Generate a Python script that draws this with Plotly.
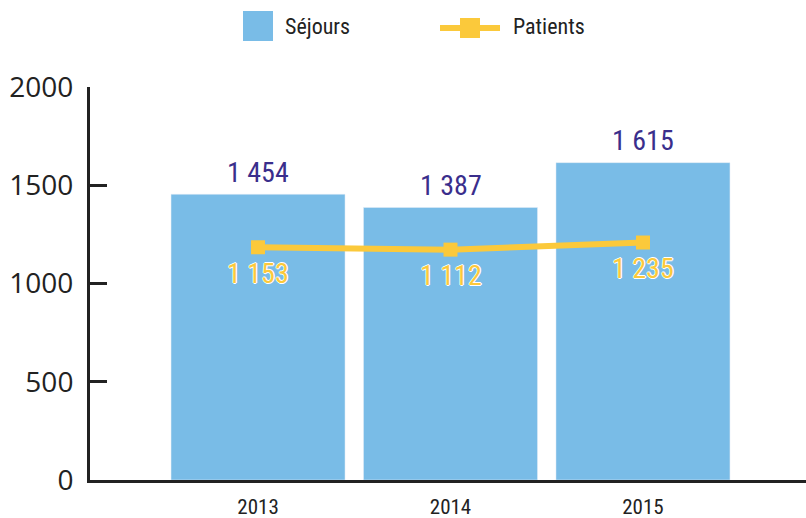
import plotly.graph_objects as go

years = ["2013", "2014", "2015"]
sejours = [1454, 1387, 1615]
patients = [1153, 1112, 1235]
sejours_labels = ["1 454", "1 387", "1 615"]
patients_labels = ["1 153", "1 112", "1 235"]
y_ticks = [0, 500, 1000, 1500, 2000]

BAR = "#79BCE7"
YEL = "#FBC93B"
PURP = "#3A2E8C"
DARK = "#222222"
COND = "Roboto Condensed, DejaVu Sans Condensed, sans-serif"

W, H = 806, 518
ML, MR, MT, MB = 90, 0, 87, 38
PW, PH = W - ML - MR, H - MT - MB


def px(x):
    return (x - ML) / PW


def py(y):
    return (H - MB - y) / PH


fig = go.Figure()
fig.add_trace(go.Bar(x=years, y=sejours, marker_color=BAR, name="Séjours",
                     showlegend=False, hoverinfo="skip"))
fig.add_trace(go.Scatter(x=years, y=patients, yaxis="y2", mode="lines+markers",
                         line=dict(color=YEL, width=6),
                         marker=dict(symbol="square", size=14, color=YEL),
                         name="Patients", showlegend=False))

annotations = []
for i, (v, t) in enumerate(zip(sejours, sejours_labels)):
    annotations.append(dict(x=i, y=v, xref="x", yref="y", text=t, showarrow=False,
                            yshift=22, font=dict(family=COND, size=28, color=PURP)))
outline = "1px 0 0 #fff, -1px 0 0 #fff, 0 1px 0 #fff, 0 -1px 0 #fff"
for i, (v, t) in enumerate(zip(patients, patients_labels)):
    annotations.append(dict(x=i, y=v, xref="x", yref="y2", text=t, showarrow=False,
                            yshift=-26,
                            font=dict(family=COND, size=28, color=YEL, shadow=outline)))

# custom legend
annotations.append(dict(x=px(283), y=py(27), xref="paper", yref="paper", text="Séjours",
                        showarrow=False, xanchor="left", yanchor="middle",
                        font=dict(family=COND, size=22, color=DARK)))
annotations.append(dict(x=px(511), y=py(27), xref="paper", yref="paper", text="Patients",
                        showarrow=False, xanchor="left", yanchor="middle",
                        font=dict(family=COND, size=22, color=DARK)))
shapes = [
    dict(type="rect", xref="paper", yref="paper", x0=px(243), x1=px(273), y0=py(41), y1=py(11),
         fillcolor=BAR, line_width=0),
    dict(type="line", xref="paper", yref="paper", x0=px(440), x1=px(500), y0=py(28), y1=py(28),
         line=dict(color=YEL, width=6)),
    dict(type="rect", xref="paper", yref="paper", x0=px(460), x1=px(480), y0=py(38), y1=py(18),
         fillcolor=YEL, line_width=0),
]

fig.update_layout(
    width=W, height=H,
    margin=dict(l=ML, r=MR, t=MT, b=MB, autoexpand=False),
    paper_bgcolor="white", plot_bgcolor="white",
    showlegend=False,
    bargap=0.096,
    annotations=annotations,
    shapes=shapes,
    xaxis=dict(type="category", range=[-0.873, 2.847], showline=True, linecolor=DARK,
               linewidth=3, ticks="", showgrid=False, zeroline=False, automargin=False,
               tickfont=dict(family=COND, size=21, color=DARK), ticklabelstandoff=6),
    yaxis=dict(range=[0, 2000], tickvals=y_ticks, showline=True, linecolor=DARK, linewidth=3,
               ticks="inside", ticklen=17, tickwidth=3, tickcolor=DARK, showgrid=False,
               zeroline=False, automargin=False,
               tickfont=dict(family="Open Sans", size=28, color=DARK),
               ticklabelstandoff=8),
    yaxis2=dict(range=[-2874, 3926], overlaying="y", visible=False),
)

fig.write_html("out.html", config={"displayModeBar": False},
               post_script="document.body.style.margin='0';document.body.style.overflow='hidden';")
